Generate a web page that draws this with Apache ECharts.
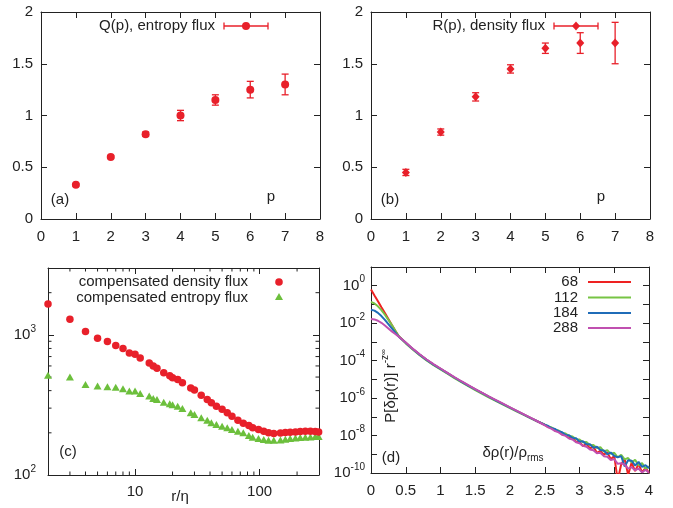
<!DOCTYPE html>
<html><head><meta charset="utf-8">
<script src="https://cdn.jsdelivr.net/npm/echarts@6/dist/echarts.min.js"></script>
<style>html,body{margin:0;padding:0;background:#fff}#c{width:673px;height:508px}</style>
</head><body><div id="c"></div><script>
// ---------- data ----------
const pValues = [1, 2, 3, 4, 5, 6, 7];
const qFlux = [0.33, 0.60, 0.82, 1.00, 1.15, 1.25, 1.30];
const qErr  = [0.01, 0.01, 0.02, 0.05, 0.05, 0.08, 0.10];
const rFlux = [0.45, 0.84, 1.18, 1.45, 1.65, 1.70, 1.70];
const rErr  = [0.03, 0.03, 0.04, 0.04, 0.05, 0.10, 0.20];

const cR = [2,3,4,5,6,7,8,9,10,11,13,14,15,17,19,20,22,24,28,30,34,38,41,45,50,55,60,67,74,82,88,98,108,118,130,147,161,176,194,212,233,256,280,298];
const cDensity = [1660,1295,1057,946,896,838,798,743,727,684,630,600,577,536,511,494,481,456,417,404,370,346,328,310,294,278,263,246,234,226,217,211,205,200,198,199,201,202,203,204,205,205,204,203];
const cEntropy = [514,500,443,431,427,422,413,397,397,382,366,352,346,331,322,317,310,298,278,270,256,246,236,229,223,217,211,205,200,191,186,182,179,177,177,178,180,182,184,185,186,187,188,188];
const cMinorX = [3,4,5,6,7,8,9,20,30,40,50,60,70,80,90,200];
const cMinorY = [200,300,400,500,600,700,800,900,2000];

// panel (d): x values and log10 of P[δρ(r)] r^-z∞
const dX = [0,0.05,0.1,0.15,0.2,0.25,0.3,0.35,0.4,
  0.5,0.6,0.7,0.8,0.9,1.0,1.1,1.2,1.3,1.4,1.5,1.6,1.7,1.8,1.9,2.0,2.1,2.2,2.3,2.4,
  2.5,2.55,2.6,2.65,2.7,2.75,2.8,2.85,2.9,2.95,3.0,3.05,3.1,3.15,3.2,3.25,3.3,3.35,3.4,3.45,3.5,3.55,3.6,3.65,3.7,3.75,3.8,3.85,3.9,3.95,4.0];
const d68Log = [-0.2,-0.52,-0.83,-1.15,-1.46,-1.78,-2.1,-2.41,-2.7,
  -3.05,-3.38,-3.68,-3.96,-4.21,-4.44,-4.67,-4.9,-5.12,-5.33,-5.54,-5.74,-5.94,-6.13,-6.32,-6.51,-6.7,-6.88,-7.07,-7.25,
  -7.43,-7.55,-7.59,-7.75,-7.76,-7.94,-7.95,-8.14,-8.11,-8.34,-8.35,-8.56,-8.45,-8.68,-8.60,-8.92,-8.82,-9.02,-8.90,-9.26,-9.09,-10.4,-9.53,-9.25,-10.1,-9.44,-9.90,-9.51,-9.97,-9.73,-9.99];
const d112Log = [-0.86,-0.95,-1.1,-1.3,-1.55,-1.82,-2.1,-2.4,-2.7,
  -3.08,-3.41,-3.71,-3.99,-4.24,-4.47,-4.70,-4.93,-5.15,-5.36,-5.57,-5.77,-5.97,-6.16,-6.35,-6.54,-6.72,-6.90,-7.08,-7.26,
  -7.41,-7.52,-7.57,-7.69,-7.73,-7.86,-7.89,-8.03,-8.05,-8.20,-8.21,-8.36,-8.35,-8.52,-8.50,-8.66,-8.62,-8.85,-8.78,-8.98,-8.92,-9.16,-9.03,-9.27,-9.20,-9.44,-9.30,-9.59,-9.47,-9.78,-9.64];
const d184Log = [-1.28,-1.33,-1.45,-1.62,-1.82,-2.05,-2.28,-2.5,-2.72,
  -3.05,-3.38,-3.68,-3.96,-4.21,-4.44,-4.67,-4.9,-5.12,-5.33,-5.54,-5.74,-5.94,-6.13,-6.32,-6.51,-6.7,-6.88,-7.07,-7.25,
  -7.42,-7.49,-7.61,-7.65,-7.77,-7.82,-7.97,-7.98,-8.13,-8.14,-8.33,-8.31,-8.46,-8.46,-8.66,-8.60,-8.77,-8.80,-9.00,-8.91,-9.09,-9.16,-9.10,-9.65,-9.32,-9.34,-9.60,-9.41,-9.67,-9.58,-9.74];
const d288Log = [-1.78,-1.8,-1.87,-1.98,-2.12,-2.28,-2.44,-2.58,-2.72,
  -3.03,-3.36,-3.66,-3.94,-4.19,-4.42,-4.65,-4.88,-5.10,-5.31,-5.52,-5.72,-5.92,-6.11,-6.30,-6.49,-6.68,-6.87,-7.06,-7.25,
  -7.45,-7.56,-7.64,-7.76,-7.83,-7.96,-8.02,-8.16,-8.21,-8.36,-8.41,-8.55,-8.60,-8.74,-8.78,-8.94,-8.92,-9.10,-9.13,-9.31,-9.26,-9.51,-9.48,-9.55,-9.77,-9.69,-9.85,-9.76,-9.97,-9.83,-9.99];
const dNames = ['68', '112', '184', '288'];

// ---------- style ----------
const FF = '"Liberation Sans", Arial, Helvetica, sans-serif';
const ink = '#222';
const red = '#e8202a';
const green = '#6cbf3c';
const dColors = ['#ee2222', '#77c444', '#1f6cb8', '#c050b0'];

const chart = echarts.init(document.getElementById('c'), null, {renderer: 'canvas'});

function ax(gridIndex, position, o) {
  return Object.assign({
    gridIndex, position,
    axisLine: {show: true, onZero: false, lineStyle: {color: ink, width: 1}},
    axisTick: {show: true, inside: true, length: 6, lineStyle: {color: ink, width: 1}},
    axisLabel: {show: false},
    splitLine: {show: false}
  }, o);
}
const lbl = (margin) => ({show: true, color: ink, fontSize: 15, fontFamily: FF, margin});
const supRich = {
  b: {fontSize: 15, fontFamily: FF, color: ink, lineHeight: 22},
  s: {fontSize: 10, fontFamily: FF, color: ink, verticalAlign: 'top', lineHeight: 10}
};
const isDecade = v => Math.abs(Math.log10(v) - Math.round(Math.log10(v))) < 1e-6;
const decadeFmt = (even) => v => {
  if (!isDecade(v)) return '';
  const e = Math.round(Math.log10(v));
  if (even && e % 2 !== 0) return '';
  return '{b|10}{s|' + e + '}';
};

const linX = {type: 'value', min: 0, max: 8, interval: 1};
const linY = {type: 'value', min: 0, max: 2, interval: 0.5};

const xAxis = [
  ax(0, 'bottom', Object.assign({}, linX, {axisLabel: lbl(10)})),
  ax(0, 'top', Object.assign({}, linX)),
  ax(1, 'bottom', Object.assign({}, linX, {axisLabel: lbl(10)})),
  ax(1, 'top', Object.assign({}, linX)),
  ax(2, 'bottom', {type: 'log', min: 2, max: 300, axisLabel: Object.assign(lbl(9), {formatter: v => isDecade(v) ? String(Math.round(v)) : ''})}),
  ax(2, 'top', {type: 'log', min: 2, max: 300}),
  ax(3, 'bottom', {type: 'value', min: 0, max: 4, interval: 0.5, axisLabel: lbl(10)}),
  ax(3, 'top', {type: 'value', min: 0, max: 4, interval: 0.5})
];
const yAxis = [
  ax(0, 'left', Object.assign({}, linY, {axisLabel: lbl(8)})),
  ax(0, 'right', Object.assign({}, linY)),
  ax(1, 'left', Object.assign({}, linY, {axisLabel: lbl(8)})),
  ax(1, 'right', Object.assign({}, linY)),
  ax(2, 'left', {type: 'log', min: 100, max: 3000, axisLabel: Object.assign(lbl(12), {formatter: decadeFmt(false), rich: supRich})}),
  ax(2, 'right', {type: 'log', min: 100, max: 3000}),
  ax(3, 'left', {type: 'log', min: 1e-10, max: 10, interval: 1, axisLabel: Object.assign(lbl(6), {formatter: decadeFmt(true), rich: supRich})}),
  ax(3, 'right', {type: 'log', min: 1e-10, max: 10, interval: 1})
];

function errBars(color) {
  return function (params, api) {
    const x = api.value(0), y = api.value(1), e = api.value(2);
    const hi = api.coord([x, y + e]), lo = api.coord([x, y - e]);
    const w = 3.5;
    const st = {stroke: color, lineWidth: 1.3};
    return {type: 'group', children: [
      {type: 'line', shape: {x1: hi[0], y1: hi[1], x2: lo[0], y2: lo[1]}, style: st},
      {type: 'line', shape: {x1: hi[0] - w, y1: hi[1], x2: hi[0] + w, y2: hi[1]}, style: st},
      {type: 'line', shape: {x1: lo[0] - w, y1: lo[1], x2: lo[0] + w, y2: lo[1]}, style: st}
    ]};
  };
}
function minorX(params, api) {
  const p = api.coord([api.value(0), api.value(1)]);
  const cs = params.coordSys;
  const st = {stroke: ink, lineWidth: 1};
  return {type: 'group', children: [
    {type: 'line', shape: {x1: p[0], y1: cs.y + cs.height, x2: p[0], y2: cs.y + cs.height - 3.5}, style: st},
    {type: 'line', shape: {x1: p[0], y1: cs.y, x2: p[0], y2: cs.y + 3.5}, style: st}
  ]};
}
function minorY(params, api) {
  const p = api.coord([api.value(0), api.value(1)]);
  const cs = params.coordSys;
  const st = {stroke: ink, lineWidth: 1};
  return {type: 'group', children: [
    {type: 'line', shape: {x1: cs.x, y1: p[1], x2: cs.x + 3.5, y2: p[1]}, style: st},
    {type: 'line', shape: {x1: cs.x + cs.width, y1: p[1], x2: cs.x + cs.width - 3.5, y2: p[1]}, style: st}
  ]};
}

const series = [
  {type: 'custom', xAxisIndex: 0, yAxisIndex: 0, renderItem: errBars(red), data: pValues.map((p, i) => [p, qFlux[i], qErr[i]]), z: 2},
  {type: 'scatter', xAxisIndex: 0, yAxisIndex: 0, symbol: 'circle', symbolSize: 8, itemStyle: {color: red, opacity: 1}, data: pValues.map((p, i) => [p, qFlux[i]]), z: 3},
  {type: 'custom', xAxisIndex: 2, yAxisIndex: 2, renderItem: errBars(red), data: pValues.map((p, i) => [p, rFlux[i], rErr[i]]), z: 2},
  {type: 'scatter', xAxisIndex: 2, yAxisIndex: 2, symbol: 'diamond', symbolSize: [8, 9], itemStyle: {color: red, opacity: 1}, data: pValues.map((p, i) => [p, rFlux[i]]), z: 3},
  {type: 'custom', xAxisIndex: 4, yAxisIndex: 4, renderItem: minorX, data: cMinorX.map(v => [v, 100]), silent: true},
  {type: 'custom', xAxisIndex: 4, yAxisIndex: 4, renderItem: minorY, data: cMinorY.map(v => [2, v]), silent: true},
  {type: 'scatter', xAxisIndex: 4, yAxisIndex: 4, symbol: 'triangle', symbolSize: [8, 7], itemStyle: {color: green, opacity: 1}, data: cR.map((r, i) => [r, cEntropy[i]])},
  {type: 'scatter', xAxisIndex: 4, yAxisIndex: 4, symbol: 'circle', symbolSize: 7.5, itemStyle: {color: red, opacity: 1}, data: cR.map((r, i) => [r, cDensity[i]])}
];
[d68Log, d112Log, d184Log, d288Log].forEach((arr, k) => {
  series.push({type: 'line', name: dNames[k], xAxisIndex: 6, yAxisIndex: 6, showSymbol: false, symbol: 'none',
    lineStyle: {color: dColors[k], width: 2}, data: dX.map((x, i) => [x, Math.pow(10, arr[i])]), z: 2 + k});
});

const txt = (x, y, text, align, extra) => Object.assign({type: 'text', x, y, silent: true,
  style: Object.assign({text, fill: ink, fontSize: 15, fontFamily: FF, align: align || 'center', verticalAlign: 'middle'}, extra || {})});
const ln = (x1, y1, x2, y2, color, w) => ({type: 'line', silent: true, shape: {x1, y1, x2, y2}, style: {stroke: color, lineWidth: w || 1.3}});

const graphic = [
  txt(215, 26, 'Q(p), entropy flux', 'right'),
  ln(224, 26, 268, 26, red), ln(224, 22.5, 224, 29.5, red), ln(268, 22.5, 268, 29.5, red),
  {type: 'circle', shape: {cx: 246, cy: 26, r: 4}, style: {fill: red}, silent: true},
  txt(545, 26, 'R(p), density flux', 'right'),
  ln(554, 26, 598, 26, red), ln(554, 22.5, 554, 29.5, red), ln(598, 22.5, 598, 29.5, red),
  {type: 'polygon', shape: {points: [[576, 21.5], [580, 26], [576, 30.5], [572, 26]]}, style: {fill: red}, silent: true},
  txt(271, 197, 'p'), txt(601, 197, 'p'),
  txt(60, 200, '(a)'), txt(390, 200, '(b)'),
  txt(248, 282, 'compensated density flux', 'right'),
  txt(248, 297.5, 'compensated entropy flux', 'right'),
  {type: 'circle', shape: {cx: 279, cy: 282, r: 3.8}, style: {fill: red}, silent: true},
  {type: 'polygon', shape: {points: [[279, 293], [283, 300], [275, 300]]}, style: {fill: green}, silent: true},
  txt(68, 452, '(c)'),
  txt(180, 497, 'r/η'),
  txt(391, 458, '(d)'),
  txt(513, 453, '{m|δρ(r)/ρ}{sub|rms}', 'center', {rich: {
    m: {fontSize: 15, fontFamily: FF, fill: ink, lineHeight: 20},
    sub: {fontSize: 10, fontFamily: FF, fill: ink, verticalAlign: 'bottom', lineHeight: 10}}}),
  {type: 'text', x: 391, y: 386, rotation: Math.PI / 2, silent: true, style: {
    text: '{m|P[δρ(r)] r}{s|-z}{ss|∞}', align: 'center', verticalAlign: 'middle',
    rich: {
      m: {fontSize: 15, fontFamily: FF, fill: ink, lineHeight: 22},
      s: {fontSize: 10, fontFamily: FF, fill: ink, verticalAlign: 'top', lineHeight: 10},
      ss: {fontSize: 8, fontFamily: FF, fill: ink, verticalAlign: 'top', lineHeight: 16}
    }}}
];
const legRows = [282, 297.5, 313, 328];
dNames.forEach((n, k) => {
  graphic.push(txt(578, legRows[k], n, 'right'));
  graphic.push(ln(588, legRows[k], 631, legRows[k], dColors[k], 2));
});

chart.setOption({
  animation: false,
  backgroundColor: '#fff',
  grid: [
    {left: 41, top: 12, width: 279, height: 207},
    {left: 371, top: 12, width: 279, height: 207},
    {left: 48, top: 268, width: 271, height: 207},
    {left: 371, top: 267, width: 278, height: 206}
  ],
  xAxis, yAxis, series, graphic
});
</script></body></html>
